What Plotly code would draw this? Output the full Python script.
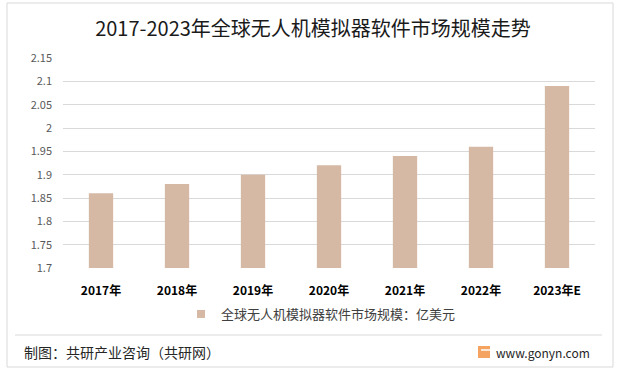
import plotly.graph_objects as go

categories = ["2017年", "2018年", "2019年", "2020年", "2021年", "2022年", "2023年E"]
values = [1.86, 1.88, 1.90, 1.92, 1.94, 1.96, 2.09]
y_ticks = [1.7, 1.75, 1.8, 1.85, 1.9, 1.95, 2.0, 2.05, 2.1, 2.15]
y_tick_labels = ["1.7", "1.75", "1.8", "1.85", "1.9", "1.95", "2", "2.05", "2.1", "2.15"]
series_name = "全球无人机模拟器软件市场规模：亿美元"
title_text = "2017-2023年全球无人机模拟器软件市场规模走势"
footer_left = "制图：共研产业咨询（共研网）"
footer_right = "www.gonyn.com"

W, H = 619, 372
L, R, T, B = 63, 24, 58, 104
PW, PH = W - L - R, H - T - B

def px(x):
    return (x - L) / PW

def py(y):
    return (H - B - y) / PH

FONT = "Microsoft YaHei, Noto Sans CJK SC, sans-serif"
BAR_COLOR = "#D5B9A4"

fig = go.Figure()
fig.add_trace(go.Bar(
    x=categories, y=values, name=series_name, showlegend=False,
    marker=dict(color=BAR_COLOR, line=dict(width=0)),
    width=0.32,
))
# legend entry with a small square symbol
fig.add_trace(go.Scatter(
    x=[None], y=[None], mode="markers", name=series_name,
    marker=dict(symbol="square", size=8, color=BAR_COLOR),
))

fig.update_layout(
    width=W, height=H,
    margin=dict(l=L, r=R, t=T, b=B, autoexpand=False),
    paper_bgcolor="white", plot_bgcolor="white",
    font=dict(family=FONT, color="#595959"),
    title=dict(text=title_text, x=(313 - L) / PW, xanchor="center", xref="paper",
               y=1 - 29 / H, yanchor="middle", yref="container",
               font=dict(size=20, color="#1a1a1a", family=FONT)),
    showlegend=True,
    legend=dict(orientation="h", x=px(181), xanchor="left", y=py(314), yanchor="middle",
                font=dict(size=13, color="#404040", family=FONT),
                itemwidth=30, traceorder="normal", bgcolor="rgba(0,0,0,0)"),
)
fig.update_xaxes(showgrid=False, showline=False, ticks="", ticklabelstandoff=14,
                 tickfont=dict(size=12, color="#000000", family=FONT, weight="bold"))
fig.update_yaxes(range=[1.7, 2.15], tickvals=y_ticks, ticktext=y_tick_labels,
                 showgrid=True, gridcolor="#D9D9D9", gridwidth=1, zeroline=False,
                 showline=False, ticks="", ticklabelstandoff=10,
                 tickfont=dict(size=11, color="#595959", family=FONT))

shapes = []
# outer border
shapes.append(dict(type="rect", xref="paper", yref="paper",
                   x0=px(7), x1=px(613), y0=py(367), y1=py(3),
                   line=dict(color="#D9D9D9", width=1), fillcolor="rgba(0,0,0,0)", layer="below"))
# footer separator
shapes.append(dict(type="line", xref="paper", yref="paper",
                   x0=px(15), x1=px(602), y0=py(335), y1=py(335),
                   line=dict(color="#D9D9D9", width=1)))
# logo
shapes.append(dict(type="rect", xref="paper", yref="paper",
                   x0=px(478), x1=px(490), y0=py(358), y1=py(346),
                   line=dict(width=0), fillcolor="#F4A460"))
shapes.append(dict(type="line", xref="paper", yref="paper",
                   x0=px(481), x1=px(490), y0=py(350), y1=py(350),
                   line=dict(color="white", width=1.5)))
fig.update_layout(shapes=shapes)

fig.add_annotation(text=footer_left, xref="paper", yref="paper",
                   x=px(22), y=py(352), xanchor="left", yanchor="middle",
                   showarrow=False, font=dict(size=14, color="#262626", family=FONT))
fig.add_annotation(text=footer_right, xref="paper", yref="paper",
                   x=px(592), y=py(352), xanchor="right", yanchor="middle",
                   showarrow=False, font=dict(size=12, color="#262626", family=FONT))

fig.write_html("out.html",
               config={"displayModeBar": False},
               post_script="document.body.style.margin='0';document.body.style.padding='0';")
